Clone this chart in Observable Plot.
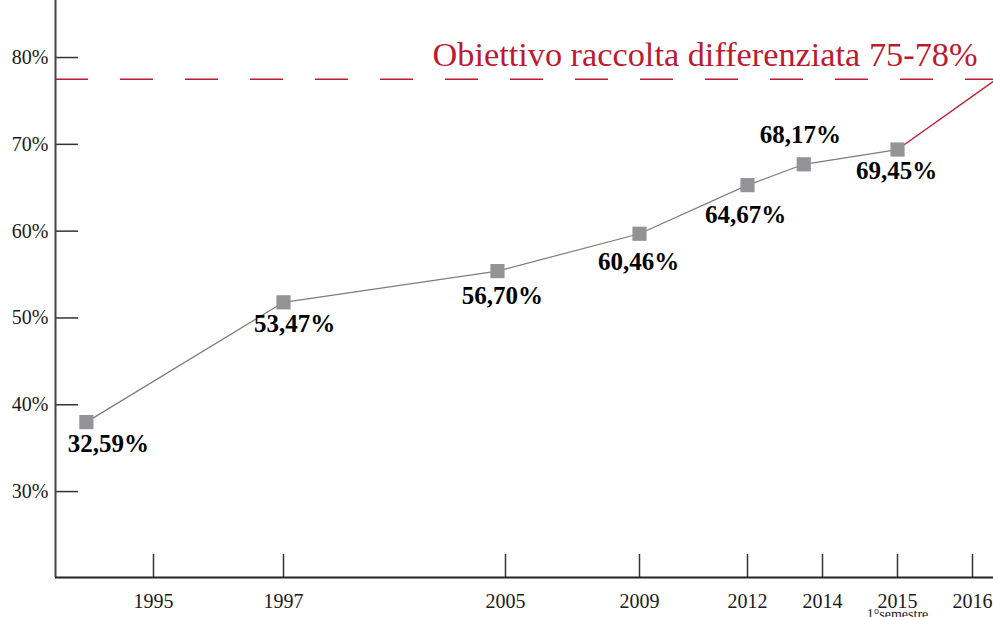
<!DOCTYPE html>
<html><head><meta charset="utf-8">
<script src="https://cdn.jsdelivr.net/npm/d3@7"></script>
<script src="https://cdn.jsdelivr.net/npm/@observablehq/plot@0.6"></script>
<style>body{margin:0;background:#fff}#chart svg{display:block}</style>
</head><body><div id="chart"></div>
<script>
// data (positions; labels as printed)
const years = [1993.63, 1997, 2004.71, 2009, 2012, 2013.5, 2015];
const values = [38.0, 51.8, 55.4, 59.7, 65.3, 67.7, 69.4];
const labels = ["32,59%", "53,47%", "56,70%", "60,46%", "64,67%", "68,17%", "69,45%"];
const tickYears = [1995, 1997, 2005, 2009, 2012, 2014, 2015, 2016];
const subLabelYear = 2015;
const subLabel = "1°semestre";
const yTicks = [30, 40, 50, 60, 70, 80];
const targetValue = 77.5;
const targetLabel = "Obiettivo raccolta differenziata 75-78%";
const trendYears = [2015, 2016.4];
const trendValues = [69.4, 78];

const points = years.map((x, i) => ({x, y: values[i], label: labels[i]}));
const trend = trendYears.map((x, i) => ({x, y: trendValues[i]}));

// label offsets (layout)
const offsets = [[22, 22], [11, 22], [5, 25], [-1, 28], [-2, 30], [-3.5, -29], [-1, 21]];

const xDomainStart = 1993, xDomainEnd = 2016.28;
const RED = "#bd1a31";

const plot = Plot.plot({
  width: 993,
  height: 617,
  marginLeft: 55,
  marginRight: 0,
  marginTop: 0,
  marginBottom: 40,
  style: {fontFamily: "'Liberation Serif', 'Times New Roman', serif", fontSize: "20px", color: "#1a1a1a", background: "#fff"},
  x: {type: "linear", domain: [xDomainStart, ...tickYears, xDomainEnd], range: [55, 153, 283, 505, 639, 747, 822, 897, 972, 993]},
  y: {domain: [20.1, 86.57]},
  marks: [
    Plot.ruleY([targetValue], {stroke: RED, strokeWidth: 1.4, strokeDasharray: "33,32"}),
    Plot.text([targetLabel], {text: d => d, frameAnchor: "top-right", lineAnchor: "middle", dx: -16, dy: 55, textAnchor: "end", fill: RED, fontSize: 34.3}),
    Plot.line(trend, {x: "x", y: "y", stroke: RED, strokeWidth: 1.3, clip: true}),
    Plot.line(points, {x: "x", y: "y", stroke: "#7d7d7d", strokeWidth: 1.2}),
    Plot.dot(points, {x: "x", y: "y", symbol: "square", r: 8, fill: "#939397", stroke: "none"}),
    ...points.map((p, i) => Plot.text([p], {x: "x", y: "y", text: "label", dx: offsets[i][0], dy: offsets[i][1], fontSize: 25, fontWeight: "bold", fill: "#000"})),
    Plot.axisY(yTicks, {tickSize: -23, tickPadding: 30, tickFormat: d => d + "%", fontSize: 20, stroke: "#333", strokeWidth: 1.5, label: null}),
    Plot.axisX(tickYears, {tickSize: -23, tickPadding: 39, tickFormat: d => String(d), fontSize: 20, stroke: "#333", strokeWidth: 1.5, label: null}),
    Plot.text([subLabel], {text: d => d, x: () => subLabelYear, frameAnchor: "bottom", lineAnchor: "middle", dy: 37, fontSize: 14, fill: "#1a1a1a"}),
    Plot.ruleX([xDomainStart], {stroke: "#444", strokeWidth: 2}),
    Plot.ruleY([20.1], {stroke: "#222", strokeWidth: 2})
  ]
});
document.getElementById("chart").appendChild(plot);
</script>
</body></html>
